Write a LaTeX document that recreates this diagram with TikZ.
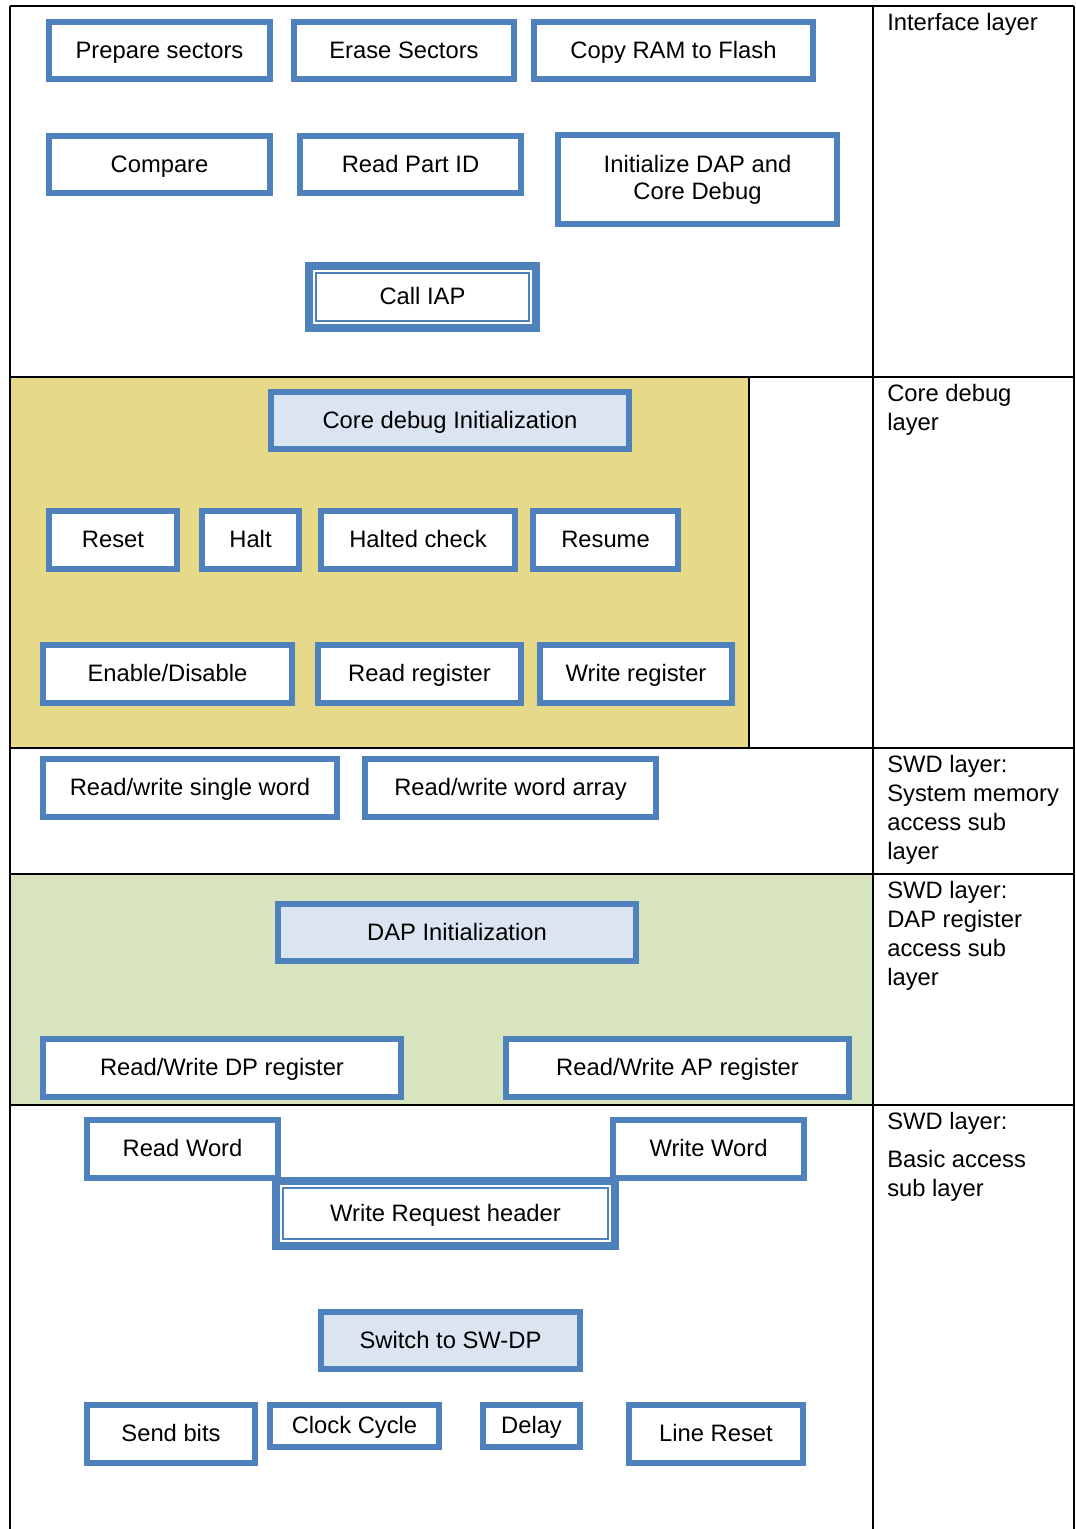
\documentclass[tikz,border=0pt]{standalone}
\usepackage{fontspec}
\setmainfont{Liberation Sans}
\usepackage{xcolor}
\usetikzlibrary{positioning}
\definecolor{swdblue}{RGB}{79,129,189}
\definecolor{swdlite}{RGB}{219,229,241}
\definecolor{coreyellow}{RGB}{230,217,138}
\definecolor{dapgreen}{RGB}{215,228,189}
\newcommand{\lblfont}{\fontsize{16.9}{20.55}\selectfont}

\begin{document}
\begin{tikzpicture}[x=0.025cm, y=-0.025cm,
  every node/.style={font=\lblfont},
  rule/.style={line width=0.065cm, black},
  blkbase/.style={draw=swdblue, line width=0.15cm, fill=white, inner sep=0pt, align=center},
  blk/.style={blkbase, text height=12.2pt, text depth=1.5pt},
  lite/.style={blk, fill=swdlite},
  dbl/.style={blk, line width=0.2cm},
  dim/.style 2 args={minimum width={(#1-6)*0.025cm}, minimum height={(#2-6)*0.025cm}},
  inner/.style={draw=swdblue, line width=0.05cm},
  layer/.style={anchor=north west, inner sep=0pt, align=left}]
  \useasboundingbox (0,0) rectangle (1076,1529);
  \fill[coreyellow] (10,377) rectangle (749,748);
  \fill[dapgreen] (10,874) rectangle (873,1105);
  \draw[rule] (10,6) -- (1074,6);
  \draw[rule] (10,6) -- (10,1535); \draw[rule] (873,6) -- (873,1535); \draw[rule] (1074,6) -- (1074,1535);
  \draw[rule] (10,377) -- (1074,377); \draw[rule] (10,748) -- (1074,748);
  \draw[rule] (10,874) -- (1074,874); \draw[rule] (10,1105) -- (1074,1105);
  \draw[rule] (749,377) -- (749,748);

  \node[layer] (lintf) at (887,13) {Interface layer};
  \node[layer] (lcore) at (887,384) {Core debug\\layer};
  \node[layer] (lmem) at (887,755) {SWD layer:\\System memory\\access sub\\layer};
  \node[layer] (ldap) at (887,881) {SWD layer:\\DAP register\\access sub\\layer};
  \node[layer] (lbasic) at (887,1112) {SWD layer:\\[0.225cm]Basic access\\sub layer};

  \node[blk, dim={227}{63}] (prep) at (159.5,50.5) {Prepare sectors};
  \node[blk, dim={226}{63}] (erase) at (404,50.5) {Erase Sectors};
  \node[blk, dim={285}{63}] (copy) at (673.5,50.5) {Copy RAM to Flash};
  \node[blk, dim={227}{63}] (cmp) at (159.5,164.5) {Compare};
  \node[blk, dim={227}{63}] (partid) at (410.5,164.5) {Read Part ID};
  \node[blkbase, dim={285}{95}] (initdap) at (697.5,179.5) {Initialize DAP and\\[-0.05cm]Core Debug};
  \node[dbl, dim={233}{68}] (iap) at (422.5,297) {Call IAP};
  \draw[inner] ([shift={(11,11)}]iap.north west) rectangle ([shift={(-11,-11)}]iap.south east);

  \node[lite, dim={364}{63}] (cdinit) at (450,420.5) {Core debug Initialization};
  \node[blk, dim={134}{64}] (reset) at (113,540) {Reset};
  \node[blk, dim={103}{64}] (halt) at (250.5,540) {Halt};
  \node[blk, dim={200}{64}] (hchk) at (418,540) {Halted check};
  \node[blk, dim={151}{64}] (resume) at (605.5,540) {Resume};
  \node[blk, dim={255}{64}] (endis) at (167.5,674) {Enable/Disable};
  \node[blk, dim={209}{64}] (rdreg) at (419.5,674) {Read register};
  \node[blk, dim={198}{64}] (wrreg) at (636,674) {Write register};

  \node[blk, dim={300}{64}] (rwsingle) at (190,788) {Read/write single word};
  \node[blk, dim={297}{64}] (rwarray) at (510.5,788) {Read/write word array};

  \node[lite, dim={364}{63}] (dapinit) at (457,932.5) {DAP Initialization};
  \node[blk, dim={364}{64}] (rwdp) at (222,1068) {Read/Write DP register};
  \node[blk, dim={349}{64}] (rwap) at (677.5,1068) {Read/Write AP register};

  \node[blk, dim={197}{64}] (rdword) at (182.5,1149) {Read Word};
  \node[blk, dim={197}{64}] (wrword) at (708.5,1149) {Write Word};
  \node[dbl, dim={345}{71}] (wrhdr) at (445.5,1213.5) {Write Request header};
  \draw[inner] ([shift={(11,11)}]wrhdr.north west) rectangle ([shift={(-11,-11)}]wrhdr.south east);
  \node[lite, dim={265}{63}] (swdp) at (450.5,1340.5) {Switch to SW-DP};
  \node[blk, dim={174}{64}] (sendbits) at (171,1434) {Send bits};
  \node[blk, dim={175}{48}] (clk) at (354.5,1426) {Clock Cycle};
  \node[blk, dim={103}{48}] (delay) at (531.5,1426) {Delay};
  \node[blk, dim={180}{64}] (lreset) at (716,1434) {Line Reset};
\end{tikzpicture}
\end{document}
